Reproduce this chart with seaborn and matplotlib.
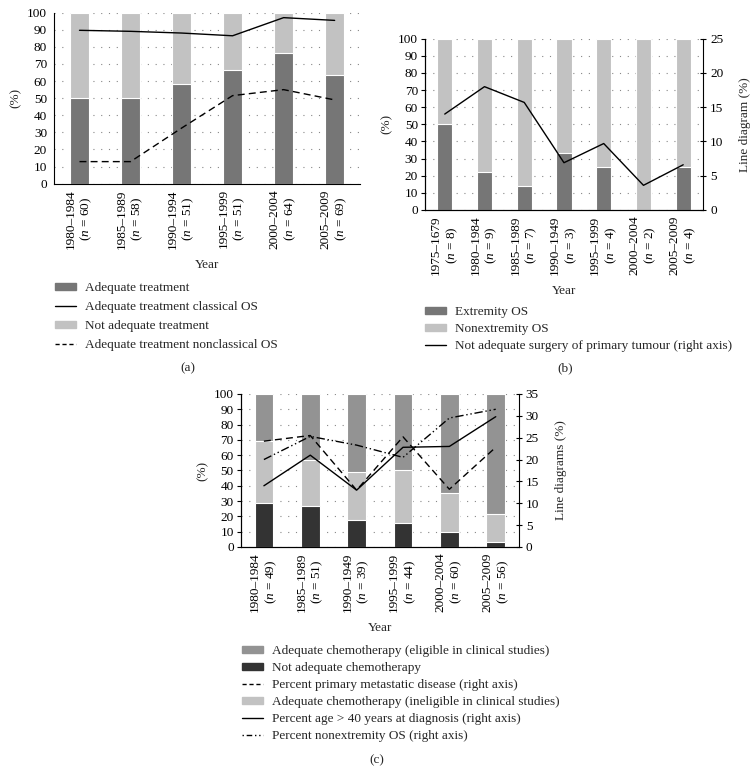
import numpy as np
import pandas as pd
import seaborn as sns
import matplotlib.pyplot as plt
from matplotlib.patches import Patch
from matplotlib.lines import Line2D

# ---- dados painel (a)
anos_a = ["1980–1984", "1985–1989", "1990–1994", "1995–1999", "2000–2004", "2005–2009"]
n_a = [60, 58, 51, 51, 64, 69]
adequado_a = [50, 50, 58.5, 66.5, 76.5, 63.5]
classico_a = [89.7, 89.1, 88.1, 86.5, 97.1, 95.5]
nao_classico_a = [12.9, 12.9, 32.5, 51.5, 55, 49]

# ---- dados painel (b)
anos_b = ["1975–1679", "1980–1984", "1985–1989", "1990–1949", "1995–1999", "2000–2004", "2005–2009"]
n_b = [8, 9, 7, 3, 4, 2, 4]
extremidade_b = [50, 22, 14, 33, 25, 0, 25]
cirurgia_b = [14.0, 18.0, 15.7, 6.9, 9.7, 3.6, 6.6]

# ---- dados painel (c)
anos_c = ["1980–1984", "1985–1989", "1990–1949", "1995–1999", "2000–2004", "2005–2009"]
n_c = [49, 51, 39, 44, 60, 56]
nao_adequada_c = [28.5, 27, 17.5, 15.5, 9.5, 3]
inelegivel_c = [41, 30, 31.5, 34.5, 25.5, 18.5]
metastatica_c = [24.2, 25.5, 13, 25.2, 13.2, 22.8]
idade40_c = [14, 21, 13, 22.8, 23, 29.8]
nao_extremidade_c = [20, 25.3, 23.3, 20.5, 29.5, 31.5]

sns.set_style("white")
plt.rcParams["font.family"] = ["Liberation Serif", "DejaVu Serif"]
plt.rcParams["mathtext.fontset"] = "custom"
plt.rcParams["mathtext.rm"] = "Liberation Serif"
plt.rcParams["mathtext.it"] = "Liberation Serif:italic"
plt.rcParams["font.size"] = 9.5
plt.rcParams["axes.edgecolor"] = "black"
plt.rcParams["axes.linewidth"] = 0.8
plt.rcParams["xtick.color"] = "black"
plt.rcParams["ytick.color"] = "black"

ESCURO = "#767676"
CLARO = "#c2c2c2"
MEDIO = "#939393"
PRETO = "#333333"


def rotulos(anos, ns):
    return [a + "\n($\\it{n}$ = " + str(n) + ")" for a, n in zip(anos, ns)]


def estilo(ax, n):
    ax.set_xlim(-0.5, n - 0.5)
    ax.set_ylim(0, 100)
    ax.set_yticks(range(0, 101, 10))
    ax.set_xticks(np.arange(-0.5, n, 1), minor=True)
    ax.tick_params(axis="x", which="major", length=0, rotation=90, pad=4)
    ax.tick_params(axis="x", which="minor", length=4, width=0.8, direction="out")
    ax.tick_params(axis="y", length=3, width=0.8, direction="out", pad=2)
    for lab in ax.get_xticklabels():
        lab.set_horizontalalignment("center")
        lab.set_multialignment("center")
    ax.yaxis.grid(True, linestyle=(0, (1, 6)), color="#888888", linewidth=0.8)
    ax.set_axisbelow(True)
    sns.despine(ax=ax, top=True, right=True)
    ax.set_xlabel("Year", labelpad=7)
    ax.set_ylabel("(%)")


def eixo_direito(ax, topo, texto):
    ax.set_ylim(0, topo)
    ax.set_yticks(range(0, topo + 1, 5))
    ax.set_ylabel(texto, labelpad=11)
    ax.tick_params(axis="y", length=4, width=0.8, direction="inout", pad=3)
    ax.spines["top"].set_visible(False)
    ax.spines["right"].set_visible(True)


def legenda(handles, labels, x, y, esp):
    fig.legend(handles=handles, labels=labels, loc="upper left",
               bbox_to_anchor=(x / 756, 1 - y / 774), frameon=False,
               borderpad=0, borderaxespad=0, handlelength=1.6, handletextpad=0.68,
               labelspacing=esp, handleheight=0.5)


fig = plt.figure(figsize=(7.56, 7.74), dpi=100)

# ================= painel (a)
ax_a = fig.add_axes([0.0714, 0.7627, 0.405, 0.2209])
lab_a = rotulos(anos_a, n_a)
sns.barplot(x=lab_a, y=[100] * len(lab_a), color=CLARO, saturation=1, width=0.38,
            edgecolor="white", linewidth=0.8, ax=ax_a)
sns.barplot(x=lab_a, y=adequado_a, color=ESCURO, saturation=1, width=0.38,
            edgecolor="white", linewidth=0.8, ax=ax_a)
pos_a = np.arange(len(lab_a))
sns.lineplot(x=pos_a, y=classico_a, color="black", linewidth=1, ax=ax_a)
sns.lineplot(x=pos_a, y=nao_classico_a, color="black", linewidth=1, linestyle=(0, (5, 3)), ax=ax_a)
estilo(ax_a, len(lab_a))

legenda([Patch(color=ESCURO), Line2D([], [], color="black", lw=1),
         Patch(color=CLARO), Line2D([], [], color="black", lw=1, ls=(0, (3, 2)))],
        ["Adequate treatment", "Adequate treatment classical OS",
         "Not adequate treatment", "Adequate treatment nonclassical OS"],
        55, 282, 0.53)
fig.text(188 / 756, 1 - 368 / 774, "(a)", ha="center", va="center")

# ================= painel (b)
ax_b = fig.add_axes([0.562, 0.7287, 0.368, 0.2213])
lab_b = rotulos(anos_b, n_b)
sns.barplot(x=lab_b, y=[100] * len(lab_b), color=CLARO, saturation=1, width=0.38,
            edgecolor="white", linewidth=0.8, ax=ax_b)
sns.barplot(x=lab_b, y=extremidade_b, color=ESCURO, saturation=1, width=0.38,
            edgecolor="white", linewidth=0.8, ax=ax_b)
estilo(ax_b, len(lab_b))
ax_b2 = ax_b.twinx()
sns.lineplot(x=np.arange(len(lab_b)), y=cirurgia_b, color="black", linewidth=1, ax=ax_b2)
eixo_direito(ax_b2, 25, "Line diagram (%)")

legenda([Patch(color=ESCURO), Patch(color=CLARO), Line2D([], [], color="black", lw=1)],
        ["Extremity OS", "Nonextremity OS", "Not adequate surgery of primary tumour (right axis)"],
        425, 306, 0.38)
fig.text(565 / 756, 1 - 368 / 774, "(b)", ha="center", va="center")

# ================= painel (c)
ax_c = fig.add_axes([0.3184, 0.2933, 0.368, 0.1977])
lab_c = rotulos(anos_c, n_c)
topo_claro = [a + b for a, b in zip(nao_adequada_c, inelegivel_c)]
sns.barplot(x=lab_c, y=[100] * len(lab_c), color=MEDIO, saturation=1, width=0.4,
            edgecolor="white", linewidth=0.8, ax=ax_c)
sns.barplot(x=lab_c, y=topo_claro, color=CLARO, saturation=1, width=0.4,
            edgecolor="white", linewidth=0.8, ax=ax_c)
sns.barplot(x=lab_c, y=nao_adequada_c, color=PRETO, saturation=1, width=0.4,
            edgecolor="white", linewidth=0.8, ax=ax_c)
estilo(ax_c, len(lab_c))
ax_c2 = ax_c.twinx()
pos_c = np.arange(len(lab_c))
sns.lineplot(x=pos_c, y=metastatica_c, color="black", linewidth=1, linestyle=(0, (5, 3)), ax=ax_c2)
sns.lineplot(x=pos_c, y=idade40_c, color="black", linewidth=1, ax=ax_c2)
sns.lineplot(x=pos_c, y=nao_extremidade_c, color="black", linewidth=1,
             linestyle=(0, (6, 2, 1, 2, 1, 2)), ax=ax_c2)
eixo_direito(ax_c2, 35, "Line diagrams (%)")

legenda([Patch(color=MEDIO), Patch(color=PRETO),
         Line2D([], [], color="black", lw=1, ls=(0, (3, 2))),
         Patch(color=CLARO), Line2D([], [], color="black", lw=1),
         Line2D([], [], color="black", lw=1, ls=(0, (1, 2, 4, 2, 1, 2, 1, 2)))],
        ["Adequate chemotherapy (eligible in clinical studies)",
         "Not adequate chemotherapy",
         "Percent primary metastatic disease (right axis)",
         "Adequate chemotherapy (ineligible in clinical studies)",
         "Percent age > 40 years at diagnosis (right axis)",
         "Percent nonextremity OS (right axis)"],
        242, 645, 0.38)
fig.text(377 / 756, 1 - 760 / 774, "(c)", ha="center", va="center")

fig.savefig("out.png", dpi=100)
